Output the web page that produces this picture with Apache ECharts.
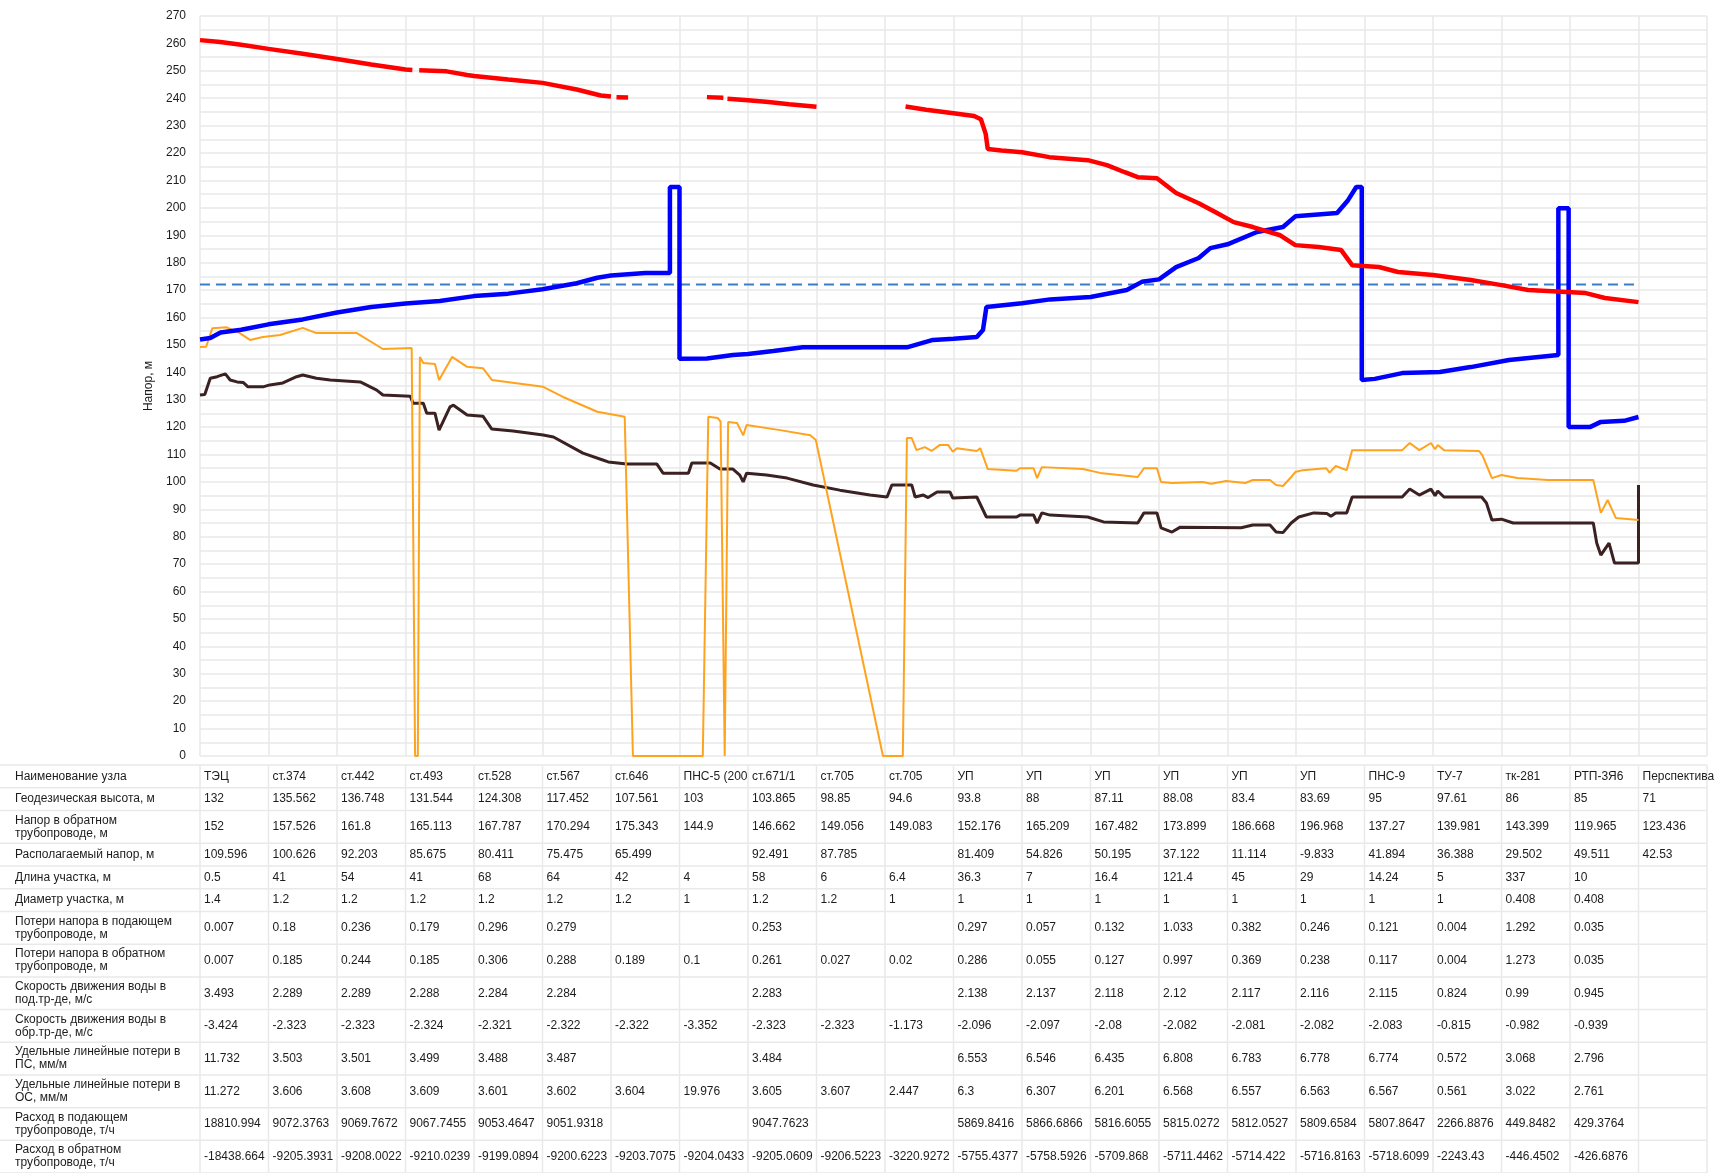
<!DOCTYPE html>
<html>
<head>
<meta charset="utf-8">
<script src="https://cdn.jsdelivr.net/npm/echarts@6/dist/echarts.min.js"></script>
<style>
  html, body { margin: 0; padding: 0; background: #fff; }
  #chart { width: 1717px; height: 1173px; }
</style>
</head>
<body>
<div id="chart"></div>
<script>
// ---- Piezometric profile: [node position, head m] ----
const supplyHead = [
  [0,261.2],[0.3,260.5],[0.6,259.5],[1,258.0],[1.5,256.2],[2,254.3],[2.5,252.3],[3,250.5],[3.1,250.3],[3.15,null],
  [3.2,250.2],[3.6,249.8],[3.9,248.5],[4,248.1],[4.5,246.8],[5,245.6],[5.5,243.2],[5.85,241],[6.0,240.6],[6.04,null],
  [6.08,240.4],[6.25,240.3],[6.8,null],
  [7.4,240.4],[7.64,240.2],[7.67,null],
  [7.7,239.8],[8.0,239.3],[8.3,238.6],[8.6,237.8],[9.0,236.9],[9.5,null],
  [10.3,237.0],[10.6,235.8],[11.0,234.5],[11.3,233.5],[11.4,232.3],[11.47,227],[11.5,221.5],[11.7,220.9],[12.0,220.3],
  [12.4,218.5],[12.96,217.4],[13.24,215.6],[13.5,213],[13.69,211.2],[13.97,210.8],[14.25,205.4],[14.58,201.7],
  [14.82,198.5],[15.09,194.8],[15.37,193],[15.77,190],[15.99,186.4],[16.33,185.7],[16.66,184.6],[16.82,179.1],
  [17.21,178.4],[17.49,176.6],[18.0,175.5],[18.55,173.7],[19.0,171.8],[19.39,170],[20.23,168.9],[20.51,167.1],[21,165.6]
];
const returnHead = [
  [0,152],[0.15,152.5],[0.3,154.5],[0.6,155.5],[1,157.5],[1.5,159.3],[2,161.8],[2.5,163.8],[3,165.1],[3.5,166],
  [4,167.8],[4.5,168.7],[5,170.3],[5.5,172.5],[5.8,174.5],[6,175.3],[6.5,176.2],[6.86,176.2],[6.86,207.6],[7.0,207.6],
  [7.0,144.9],[7.4,145],[7.78,146.3],[8.0,146.7],[8.37,147.8],[8.8,149.1],[10.32,149.1],[10.7,151.8],[11.0,152.2],
  [11.34,152.9],[11.43,155.4],[11.48,163.8],[12.0,165.2],[12.41,166.6],[13.0,167.5],[13.53,170],[13.75,173],[14.0,173.9],
  [14.25,178.4],[14.58,181.7],[14.75,185.3],[15.0,186.7],[15.43,191.2],[15.81,193],[15.99,196.9],[16.6,198.1],
  [16.76,202.8],[16.88,207.6],[16.96,207.6],[16.96,137.2],[17.15,137.6],[17.55,139.7],[18.1,140.1],[18.55,141.9],
  [19.11,144.5],[19.83,146.3],[19.83,199.9],[19.98,199.9],[19.98,120],[20.29,120],[20.45,121.9],[20.79,122.3],[21,123.7]
];
const groundLevel = [
  [0,131.7],[0.07,131.9],[0.15,137.8],[0.25,138.4],[0.37,139.4],[0.44,137.2],[0.54,136.5],[0.63,136.3],[0.7,134.7],
  [0.92,134.7],[1.02,135.4],[1.21,136.1],[1.41,138.4],[1.5,139],[1.7,137.8],[1.9,137.2],[2.34,136.5],[2.58,133.5],
  [2.67,131.7],[3.07,131.3],[3.11,128.7],[3.26,128.7],[3.31,125.1],[3.43,125.1],[3.49,118.9],[3.65,127.4],[3.7,128],
  [3.9,124.4],[4.13,124],[4.26,119.3],[4.57,118.6],[5.01,117.1],[5.16,116.4],[5.59,110.5],[5.88,108],[5.96,107.3],
  [6.23,106.5],[6.67,106.5],[6.76,103.2],[7.13,103.2],[7.18,106.9],[7.45,106.9],[7.59,104.7],[7.78,104.7],[7.88,102.5],
  [7.93,100],[7.98,103.2],[8.27,102.5],[8.57,101.4],[8.95,98.9],[9.34,97],[9.78,95.2],[10.03,94.5],[10.1,98.9],
  [10.39,98.9],[10.44,94.5],[10.56,95.2],[10.63,94.3],[10.76,96.3],[10.95,96.3],[10.99,94.1],[11.34,94.5],[11.48,87.2],
  [11.92,87.2],[11.97,87.9],[12.17,87.9],[12.22,85],[12.29,88.7],[12.41,87.9],[12.96,87.2],[13.19,85.4],[13.69,85],
  [13.78,88.7],[13.97,88.7],[14.03,83.2],[14.19,81.7],[14.31,83.5],[15.2,83.3],[15.37,84.3],[15.62,84.3],[15.71,81.7],
  [15.81,81.5],[15.93,85],[16.04,87.2],[16.26,88.7],[16.45,88.5],[16.51,87.5],[16.58,88.7],[16.74,88.7],[16.82,94.5],
  [17.55,94.5],[17.66,97.4],[17.8,95.2],[17.97,97.4],[18.03,95],[18.07,96.7],[18.16,94.5],[18.71,94.5],[18.78,92.3],
  [18.86,86.1],[19.0,86.4],[19.17,85],[20.34,85],[20.39,77.7],[20.45,73.3],[20.57,77.7],[20.65,70.4],[21,70.4],[21,98.9]
];
const staticLine = [
  [0,149.2],[0.09,149.3],[0.18,156.1],[0.39,156.4],[0.58,154.3],[0.73,151.8],[0.92,152.9],[1.17,153.6],[1.5,156.2],
  [1.7,154.3],[2.29,154.3],[2.67,148.5],[3.09,148.9],[3.14,0],[3.18,0],[3.21,145.6],[3.26,143.4],[3.43,143],[3.49,137.2],
  [3.68,145.6],[3.9,142],[4.13,141.5],[4.26,137.2],[5.01,134.7],[5.3,131],[5.8,125.6],[6.2,123.8],[6.32,0],[7.34,0],
  [7.42,123.8],[7.56,123.3],[7.6,122],[7.66,0],[7.71,121.9],[7.84,121.5],[7.93,117],[7.98,120.8],[8.47,118.9],[8.91,117],
  [8.99,115.3],[9.97,0],[10.26,0],[10.32,116],[10.39,116],[10.46,111.6],[10.58,112.7],[10.68,111.3],[10.8,113.5],
  [10.92,113.5],[10.99,111],[11.05,112.3],[11.34,111.3],[11.39,112.3],[11.5,104.7],[11.92,104.1],[11.97,105],[12.17,105],
  [12.22,101.4],[12.29,105.4],[12.89,104.7],[13.14,103.3],[13.69,101.8],[13.78,105],[13.97,105],[14.03,100],[14.19,99.6],
  [14.64,100],[14.76,99.3],[14.98,100.3],[15.26,99.6],[15.37,100.7],[15.62,100.7],[15.71,98.9],[15.81,98.5],[15.93,101.8],
  [15.99,103.6],[16.1,104.3],[16.44,105],[16.49,103.4],[16.58,105.8],[16.74,104.3],[16.82,111.6],[17.55,111.6],
  [17.66,114.2],[17.8,111.6],[17.97,114.2],[18.03,111.9],[18.07,113.5],[18.16,111.6],[18.67,111.3],[18.72,109.8],
  [18.86,101.4],[19.0,102.5],[19.23,101.4],[19.68,100.7],[20.34,100.7],[20.45,88.7],[20.55,93.4],[20.67,86.8],[21,86.1]
];
const allowedHead = [[0,172],[21,172]];

// ---- Node table ----
const nodeNames = ['ТЭЦ','ст.374','ст.442','ст.493','ст.528','ст.567','ст.646','ПНС-5 (200','ст.671/1','ст.705','ст.705',
  'УП','УП','УП','УП','УП','УП','ПНС-9','ТУ-7','тк-281','РТП-3Я6','Перспектива'];
const geoHeight = [132,135.562,136.748,131.544,124.308,117.452,107.561,103,103.865,98.85,94.6,93.8,88,87.11,88.08,83.4,83.69,95,97.61,86,85,71];
const returnPressure = [152,157.526,161.8,165.113,167.787,170.294,175.343,144.9,146.662,149.056,149.083,152.176,165.209,167.482,173.899,186.668,196.968,137.27,139.981,143.399,119.965,123.436];
const availablePressure = [109.596,100.626,92.203,85.675,80.411,75.475,65.499,null,92.491,87.785,null,81.409,54.826,50.195,37.122,11.114,-9.833,41.894,36.388,29.502,49.511,42.53];
const sectionLength = [0.5,41,54,41,68,64,42,4,58,6,6.4,36.3,7,16.4,121.4,45,29,14.24,5,337,10,null];
const sectionDiameter = [1.4,1.2,1.2,1.2,1.2,1.2,1.2,1,1.2,1.2,1,1,1,1,1,1,1,1,1,0.408,0.408,null];
const lossSupply = [0.007,0.18,0.236,0.179,0.296,0.279,null,null,0.253,null,null,0.297,0.057,0.132,1.033,0.382,0.246,0.121,0.004,1.292,0.035,null];
const lossReturn = [0.007,0.185,0.244,0.185,0.306,0.288,0.189,0.1,0.261,0.027,0.02,0.286,0.055,0.127,0.997,0.369,0.238,0.117,0.004,1.273,0.035,null];
const velocitySupply = [3.493,2.289,2.289,2.288,2.284,2.284,null,null,2.283,null,null,2.138,2.137,2.118,2.12,2.117,2.116,2.115,0.824,0.99,0.945,null];
const velocityReturn = [-3.424,-2.323,-2.323,-2.324,-2.321,-2.322,-2.322,-3.352,-2.323,-2.323,-1.173,-2.096,-2.097,-2.08,-2.082,-2.081,-2.082,-2.083,-0.815,-0.982,-0.939,null];
const specLossSupply = [11.732,3.503,3.501,3.499,3.488,3.487,null,null,3.484,null,null,6.553,6.546,6.435,6.808,6.783,6.778,6.774,0.572,3.068,2.796,null];
const specLossReturn = [11.272,3.606,3.608,3.609,3.601,3.602,3.604,19.976,3.605,3.607,2.447,6.3,6.307,6.201,6.568,6.557,6.563,6.567,0.561,3.022,2.761,null];
const flowSupply = [18810.994,9072.3763,9069.7672,9067.7455,9053.4647,9051.9318,null,null,9047.7623,null,null,5869.8416,5866.6866,5816.6055,5815.0272,5812.0527,5809.6584,5807.8647,2266.8876,449.8482,429.3764,null];
const flowReturn = [-18438.664,-9205.3931,-9208.0022,-9210.0239,-9199.0894,-9200.6223,-9203.7075,-9204.0433,-9205.0609,-9206.5223,-3220.9272,-5755.4377,-5758.5926,-5709.868,-5711.4462,-5714.422,-5716.8163,-5718.6099,-2243.43,-446.4502,-426.6876,null];

const tableRows = [
  ['Наименование узла', nodeNames],
  ['Геодезическая высота, м', geoHeight],
  ['Напор в обратном\nтрубопроводе, м', returnPressure],
  ['Располагаемый напор, м', availablePressure],
  ['Длина участка, м', sectionLength],
  ['Диаметр участка, м', sectionDiameter],
  ['Потери напора в подающем\nтрубопроводе, м', lossSupply],
  ['Потери напора в обратном\nтрубопроводе, м', lossReturn],
  ['Скорость движения воды в\nпод.тр-де, м/с', velocitySupply],
  ['Скорость движения воды в\nобр.тр-де, м/с', velocityReturn],
  ['Удельные линейные потери в\nПС, мм/м', specLossSupply],
  ['Удельные линейные потери в\nОС, мм/м', specLossReturn],
  ['Расход в подающем\nтрубопроводе, т/ч', flowSupply],
  ['Расход в обратном\nтрубопроводе, т/ч', flowReturn]
];

// row heights in px: one- or two-line captions
const rowH = tableRows.map(r => r[0].includes('\n') ? 33 : 23);
const rowTop = [];
rowH.reduce((acc, h, i) => { rowTop[i] = acc; return acc + h; }, 0);
const tableHeight = rowH.reduce((a, b) => a + b, 0);

const cells = [];
const cellData = [];
tableRows.forEach((r, ri) => {
  cells.push(r[0]); cellData.push([-1, ri]);
  r[1].forEach((v, ci) => {
    cells.push(v == null ? '' : String(v));
    cellData.push([ci, ri]);
  });
});

const TEXT = '#1c1c1c';
const GRIDC = '#e9e9e9';
const FONT = 'Liberation Sans, Arial, sans-serif';

function renderCell(params, api) {
  const col = api.value(0), row = api.value(1);
  const t = rowTop[row], b = rowTop[row] + rowH[row];
  const pTop = api.coord([Math.max(col, 0), t]);
  const pBot = api.coord([col + 1, b]);
  const x0 = col < 0 ? 0 : pTop[0];
  const x1 = col < 0 ? params.coordSys.x : pBot[0];
  const y0 = pTop[1], y1 = pBot[1];
  const children = [
    { type: 'line', shape: { x1: x0, y1: y1, x2: x1, y2: y1 }, style: { stroke: GRIDC, lineWidth: 1.5 } },
    { type: 'line', shape: { x1: x1, y1: y0, x2: x1, y2: y1 }, style: { stroke: GRIDC, lineWidth: 1.5 } },
    { type: 'text', style: {
        text: cells[params.dataIndex], x: x0 + (col < 0 ? 15 : 4), y: (y0 + y1) / 2,
        verticalAlign: 'middle', align: 'left', fill: TEXT,
        fontSize: 12, fontFamily: FONT, lineHeight: 13 } }
  ];
  if (row === 0) children.push({ type: 'line', shape: { x1: x0, y1: y0, x2: x1, y2: y0 }, style: { stroke: GRIDC, lineWidth: 1.5 } });
  return { type: 'group', children };
}

const chart = echarts.init(document.getElementById('chart'), null, { renderer: 'canvas' });
const lineBase = { type: 'line', xAxisIndex: 0, yAxisIndex: 0, showSymbol: false, symbol: 'none', connectNulls: false, animation: false };

chart.setOption({
  animation: false,
  backgroundColor: '#ffffff',
  grid: [
    { left: 200, right: 10, top: 16, height: 740 },
    { left: 200, right: 10, top: 765, height: tableHeight }
  ],
  xAxis: [
    { gridIndex: 0, type: 'value', min: 0, max: 22, interval: 1,
      axisLabel: { show: false }, axisTick: { show: false }, axisLine: { show: false },
      splitLine: { show: true, lineStyle: { color: GRIDC, width: 1.5 } } },
    { gridIndex: 1, type: 'value', min: 0, max: 22, show: false }
  ],
  yAxis: [
    { gridIndex: 0, type: 'value', min: 0, max: 270, interval: 10,
      name: 'Напор, м', nameLocation: 'middle', nameGap: 38,
      nameTextStyle: { fontSize: 12, color: TEXT, fontFamily: FONT },
      axisLabel: { fontSize: 12, color: TEXT, fontFamily: FONT, margin: 14 },
      axisTick: { show: false }, axisLine: { show: false },
      splitLine: { show: true, lineStyle: { color: GRIDC, width: 1.5 } },
      minorTick: { show: false, splitNumber: 2 },
      minorSplitLine: { show: true, lineStyle: { color: GRIDC, width: 1.5 } } },
    { gridIndex: 1, type: 'value', min: 0, max: tableHeight, inverse: true, show: false }
  ],
  series: [
    Object.assign({}, lineBase, { name: 'Допустимый напор', data: allowedHead, z: 2,
      lineStyle: { color: '#3d7dc8', width: 2, type: [10, 6] } }),
    Object.assign({}, lineBase, { name: 'Геодезическая высота', data: groundLevel, z: 3,
      lineStyle: { color: '#3b2121', width: 3 } }),
    Object.assign({}, lineBase, { name: 'Статический напор', data: staticLine, z: 4,
      lineStyle: { color: '#ffa31f', width: 2 } }),
    Object.assign({}, lineBase, { name: 'Обратный', data: returnHead, z: 5,
      lineStyle: { color: '#0000ff', width: 4.5 } }),
    Object.assign({}, lineBase, { name: 'Подающий', data: supplyHead, z: 6,
      lineStyle: { color: '#ff0000', width: 4.5 } }),
    { type: 'custom', xAxisIndex: 1, yAxisIndex: 1, data: cellData, renderItem: renderCell, animation: false, silent: true }
  ]
});
</script>
</body>
</html>
